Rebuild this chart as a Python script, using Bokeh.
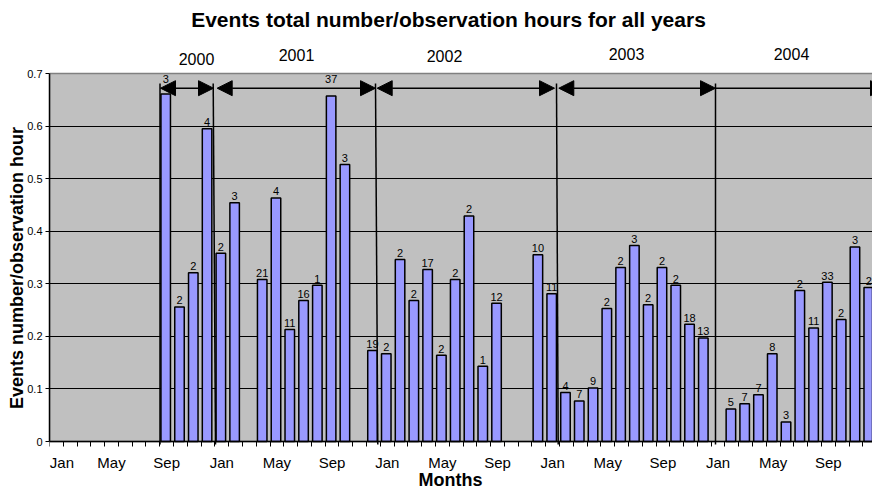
from bokeh.plotting import figure
from bokeh.models import (Range1d, FixedTicker, Label, Arrow, NormalHead, LinearAxis,
                          ColumnDataSource, CustomJSTickFormatter)
from bokeh.core.properties import value
from bokeh.embed import file_html
from bokeh.resources import INLINE

# ---------------- data ----------------
# month index: 0 = Jan 2000 ... 59 = Dec 2004
month_index = [8, 9, 10, 11, 12, 13, 15, 16, 17, 18, 19, 20, 21,
               23, 24, 25, 26, 27, 28, 29, 30, 31, 32,
               35, 36, 37, 38, 39, 40, 41, 42, 43, 44, 45, 46, 47,
               49, 50, 51, 52, 53, 54, 55, 56, 57, 58, 59]
events_per_hour = [0.661, 0.256, 0.321, 0.595, 0.358, 0.454, 0.308, 0.463, 0.213,
                   0.268, 0.297, 0.657, 0.527,
                   0.173, 0.167, 0.346, 0.268, 0.327, 0.164, 0.308, 0.429, 0.143, 0.263,
                   0.355, 0.281, 0.093, 0.077, 0.102, 0.253, 0.331, 0.373, 0.260, 0.331,
                   0.297, 0.223, 0.197,
                   0.062, 0.072, 0.089, 0.167, 0.037, 0.287, 0.216, 0.303, 0.232, 0.370, 0.293]
event_counts = ["3", "2", "2", "4", "2", "3", "21", "4", "11", "16", "1", "37", "3",
                "19", "2", "2", "2", "17", "2", "2", "2", "1", "12",
                "10", "11", "4", "7", "9", "2", "2", "3", "2", "2", "2", "18", "13",
                "5", "7", "7", "8", "3", "2", "11", "33", "2", "3", "2"]
tick_months = [0, 4, 8, 12, 16, 20, 24, 28, 32, 36, 40, 44, 48, 52, 56]
tick_labels = ["Jan", "May", "Sep"] * 5
y_ticks = [0, 0.1, 0.2, 0.3, 0.4, 0.5, 0.6, 0.7]
years = ["2000", "2001", "2002", "2003", "2004"]

TITLE = "Events total number/observation hours for all years"
X_TITLE = "Months"
Y_TITLE = "Events number/observation hour"

# ---------------- layout helpers (canvas pixels -> data) ----------------
W, H = 872, 490
FONT = "Liberation Sans"
LEFT = 49          # left edge of the plot area
BASE = 441         # pixel row of y = 0
CAT_PX = 13.785    # width of one month
PX_PER_UNIT = 368 / 0.7
Y_MAX = 0.7
LABEL_SHIFT = 7    # labels render this many px lower than their anchor


def dx(px):
    return (px - LEFT) / CAT_PX


def dy(py):
    return (BASE - py) / PX_PER_UNIT


def ly(py):
    return dy(py - LABEL_SHIFT)


X_END = (W - LEFT) / CAT_PX

p = figure(width=W, height=H, output_backend="svg", toolbar_location=None,
           title=None,
           x_range=Range1d(0, X_END), y_range=Range1d(dy(H), dy(0)),
           min_border_left=LEFT, min_border_right=0, min_border_top=0,
           min_border_bottom=0)

p.background_fill_color = "white"
p.border_fill_color = "white"
p.outline_line_color = None

# plot area (grey panel with grey border)
p.quad(left=0, right=X_END + 1, bottom=0, top=Y_MAX, fill_color="#C0C0C0",
       line_color="#808080", line_width=1.5, level="image")

# grid
p.xgrid.visible = False
p.ygrid.ticker = FixedTicker(ticks=y_ticks[1:-1])
p.ygrid.grid_line_color = "black"
p.ygrid.grid_line_width = 1

# x axis (category axis at y = 0); first label nudged right so it is not clipped
label_pos = [m + 0.5 for m in tick_months]
label_pos[0] = 0.9
p.xaxis.fixed_location = 0
p.xaxis.ticker = FixedTicker(ticks=label_pos, minor_ticks=list(range(0, 61)))
p.xaxis.major_label_overrides = {t: lab for t, lab in zip(label_pos, tick_labels)}
p.xaxis.major_tick_out = 0
p.xaxis.major_tick_in = 0
p.xaxis.minor_tick_out = 5
p.xaxis.minor_tick_in = 0
p.xaxis.minor_tick_line_color = "black"
p.xaxis.minor_tick_line_width = 1
p.xaxis.axis_line_color = "black"
p.xaxis.axis_line_width = 1.5
p.xaxis.major_label_text_font = FONT
p.xaxis.major_label_text_font_size = "15px"
p.xaxis.major_label_text_color = "black"
p.xaxis.major_label_standoff = 7

# y axis
p.yaxis.bounds = (0, Y_MAX)
p.yaxis.ticker = FixedTicker(ticks=y_ticks)
p.yaxis.formatter = CustomJSTickFormatter(code="return tick == 0 ? '0' : tick.toFixed(1);")
p.yaxis.major_tick_out = 4
p.yaxis.major_tick_in = 0
p.yaxis.minor_tick_out = 0
p.yaxis.minor_tick_in = 0
p.yaxis.major_tick_line_color = "black"
p.yaxis.axis_line_color = "black"
p.yaxis.axis_line_width = 1.5
p.yaxis.major_label_text_font = FONT
p.yaxis.major_label_text_font_size = "11px"
p.yaxis.major_label_text_color = "black"
p.yaxis.major_label_standoff = 3

# y axis title drawn as a single-tick axis so that it can be placed precisely
ylab_pos = 0.33
ytitle_axis = LinearAxis(ticker=FixedTicker(ticks=[ylab_pos]),
                         major_label_overrides={ylab_pos: Y_TITLE},
                         major_label_orientation="vertical",
                         axis_line_color=None, major_tick_line_color=None,
                         minor_tick_line_color=None, major_tick_out=0,
                         major_label_standoff=-3,
                         major_label_text_font=FONT,
                         major_label_text_font_size="18px",
                         major_label_text_font_style="bold",
                         major_label_text_color="black")
p.add_layout(ytitle_axis, "left")

# bars
arrow_y = dy(87.7)
bar_x = [m + 0.43 for m in month_index]
label_y = [(arrow_y + 0.01) if v > arrow_y - 0.03 else v + 0.005 for v in events_per_hour]
src = ColumnDataSource(data=dict(x=bar_x, top=events_per_hour, lab=event_counts, ly=label_y))
p.vbar(x="x", top="top", bottom=0, width=0.69, source=src,
       fill_color="#9999FF", line_color="black", line_width=1.5)
p.text(x="x", y="ly", text="lab", source=src, text_align="center",
       text_baseline="bottom", text_font=value(FONT), text_font_size="11px",
       text_color="black")

# year boundaries and arrows
boundary_top_px = [159.5, 212.7, 375.0, 556.0, 715.0]
boundary_bot_px = [159.5, 215.0, 377.3, 557.7, 715.0]
for xt, xb in zip(boundary_top_px, boundary_bot_px):
    p.add_layout(Arrow(start=None, end=None, x_start=dx(xb), y_start=dy(444),
                       x_end=dx(xt), y_end=dy(83), line_color="black", line_width=1.5))

arrow_px = [(160, 213, True), (216.7, 375, True), (376.7, 554, True),
            (558.3, 715, True), (715, 885, False)]
for x0, x1, head0 in arrow_px:
    st = NormalHead(size=15, fill_color="black", line_color="black", line_width=1) if head0 else None
    en = NormalHead(size=15, fill_color="black", line_color="black", line_width=1)
    p.add_layout(Arrow(start=st, end=en, x_start=dx(x0), y_start=arrow_y,
                       x_end=dx(x1), y_end=arrow_y, line_color="black", line_width=1.5))

year_px = [(196, 65), (296, 61), (444, 62), (626, 60), (791, 60)]
for yr, (xp, yp) in zip(years, year_px):
    p.add_layout(Label(x=dx(xp), y=ly(yp), text=yr, text_align="center",
                       text_baseline="alphabetic", text_font=FONT,
                       text_font_size="16px", text_color="black"))

# chart title and x axis title
p.add_layout(Label(x=dx(448), y=ly(25.5), text=TITLE,
                   text_align="center", text_baseline="alphabetic", text_font=FONT,
                   text_font_size="21px", text_font_style="bold", text_color="black"))
p.add_layout(Label(x=dx(450), y=ly(486), text=X_TITLE,
                   text_align="center", text_baseline="alphabetic", text_font=FONT,
                   text_font_size="18px", text_font_style="bold", text_color="black"))

open("out.html", "w").write(file_html(p, INLINE))
